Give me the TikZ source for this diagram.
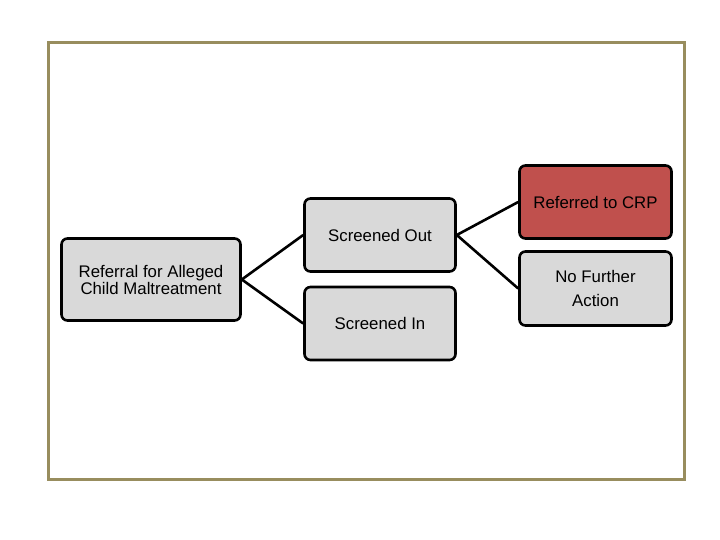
\documentclass[tikz,border=0pt]{standalone}
\usepackage{fontspec}
\setmainfont{Liberation Sans}
\definecolor{frameolive}{RGB}{152,141,94}
\definecolor{boxgray}{RGB}{217,217,217}
\definecolor{crpred}{RGB}{192,80,77}
\begin{document}
\begin{tikzpicture}[x=1pt,y=-1pt,
    box/.style={draw=black, line width=2.6pt, rounded corners=6pt, fill=boxgray,
      inner sep=0pt, align=center, font=\fontsize{16.8}{17}\selectfont},
    link/.style={line width=2.6pt}]
        \useasboundingbox (0,0) rectangle (720,540);
        % Frame
        \draw[frameolive, line width=2.8pt] (48.5,42.5) rectangle (684.5,479.5);
        % Boxes
        \node[box, minimum width=179, minimum height=82] (referral) at (151,279.5)
            {Referral for Alleged\\Child Maltreatment};
        \node[box, minimum width=151, minimum height=73] (scrout) at (380,235) {Screened Out};
        \node[box, minimum width=151, minimum height=73] (scrin) at (380,323.5) {Screened In};
        \node[box, fill=crpred, minimum width=152, minimum height=73] (crp) at (595.5,202)
            {Referred to CRP};
        \node[box, minimum width=152, minimum height=74, font=\fontsize{16.8}{24}\selectfont]
            (nfa) at (595.5,288.5) {No Further\\Action};
        % Links
        \draw[link] (scrout.west) -- (referral.east) -- (scrin.west);
        \draw[link] (crp.west) -- (scrout.east) -- (nfa.west);
    \end{tikzpicture}
\end{document}
